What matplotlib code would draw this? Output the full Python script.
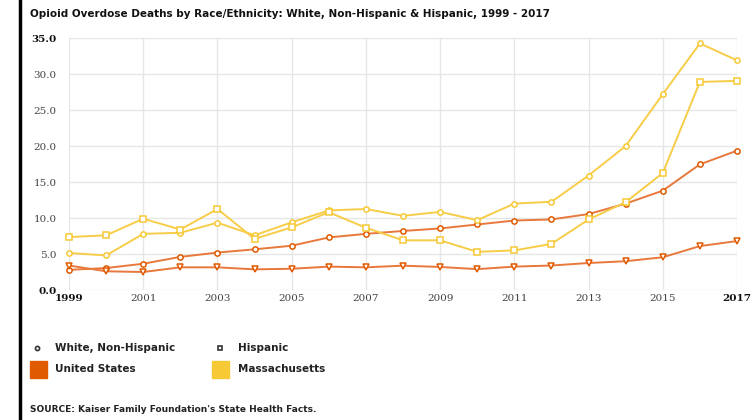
import matplotlib.pyplot as plt
from matplotlib.patches import Rectangle
from matplotlib.lines import Line2D

years = list(range(1999, 2018))

us_white = [2.8, 3.05, 3.65, 4.6, 5.2, 5.65, 6.15, 7.3, 7.8, 8.2, 8.55, 9.1, 9.65, 9.8, 10.55, 12.0, 13.8, 17.45, 19.35]
us_hispanic = [3.4, 2.6, 2.5, 3.15, 3.15, 2.87, 2.95, 3.25, 3.15, 3.38, 3.2, 2.9, 3.25, 3.4, 3.75, 4.0, 4.55, 6.1, 6.8]
ma_white = [5.15, 4.8, 7.8, 7.95, 9.35, 7.6, 9.4, 11.05, 11.25, 10.3, 10.85, 9.7, 12.0, 12.25, 15.9, 20.0, 27.2, 34.25, 31.9]
ma_hispanic = [7.35, 7.6, 9.9, 8.4, 11.25, 7.1, 8.7, 10.8, 8.65, 6.9, 6.9, 5.3, 5.5, 6.4, 9.8, 12.2, 16.25, 28.9, 29.05]

x_ticks = list(range(1999, 2018, 2))
y_ticks = [0, 5, 10, 15, 20, 25, 30, 35]

us_color = '#e05a00'
us_line = '#e8783c'
ma_color = '#f6c935'
ma_line = '#f7cd48'

fig = plt.figure(figsize=(7.53, 4.2), dpi=100)
ax = fig.add_axes([69 / 753, 0.3095, 668 / 753, 0.6])

def draw(vals, marker, lc, mc):
    ax.plot(years, vals, color=lc, lw=1.4, marker=marker, ms=3.8,
            mfc='white', mec=mc, mew=1.1, clip_on=False, zorder=3)

draw(us_white, 'o', us_line, us_color)
draw(us_hispanic, 'v', us_line, us_color)
draw(ma_white, 'o', ma_line, ma_color)
draw(ma_hispanic, 's', ma_line, ma_color)

ax.set_xlim(1999, 2017)
ax.set_ylim(0, 35)
ax.set_xticks(x_ticks)
ax.set_xticklabels([str(t) for t in x_ticks], family='DejaVu Serif', fontsize=7.5, color='#444444')
ax.set_yticks(y_ticks)
ax.set_yticklabels(['%.1f' % t for t in y_ticks], family='DejaVu Serif', fontsize=7.5, color='#444444')
for lbl in [ax.get_xticklabels()[0], ax.get_xticklabels()[-1], ax.get_yticklabels()[0], ax.get_yticklabels()[-1]]:
    lbl.set_fontweight('bold')
    lbl.set_color('#111111')
ax.tick_params(length=0, pad=3)
ax.tick_params(axis='y', pad=9)
for s in ax.spines.values():
    s.set_visible(False)
ax.grid(True, color='#e6e6e6', lw=1)
ax.set_axisbelow(True)

# left border line
fig.add_artist(Line2D([20 / 753, 20 / 753], [0, 1], color='black', lw=2.5))

fig.text(30 / 753, 1 - 14 / 420, 'Opioid Overdose Deaths by Race/Ethnicity: White, Non-Hispanic & Hispanic, 1999 - 2017',
         fontsize=7.5, fontweight='bold', va='center', ha='left', color='#111111')

# legend
fig.add_artist(Line2D([37 / 753], [1 - 348 / 420], marker='o', ms=3, mfc='white', mec='#333333', mew=1.2))
fig.text(55 / 753, 1 - 348 / 420, 'White, Non-Hispanic', fontsize=7.5, fontweight='bold', va='center', color='#222222')
fig.add_artist(Line2D([220 / 753], [1 - 348 / 420], marker='s', ms=3, mfc='white', mec='#333333', mew=1.2))
fig.text(238 / 753, 1 - 348 / 420, 'Hispanic', fontsize=7.5, fontweight='bold', va='center', color='#222222')
fig.add_artist(Rectangle((30 / 753, 1 - 378 / 420), 17 / 753, 17 / 420, color=us_color, transform=fig.transFigure))
fig.text(55 / 753, 1 - 369 / 420, 'United States', fontsize=7.5, fontweight='bold', va='center', color='#222222')
fig.add_artist(Rectangle((212 / 753, 1 - 378 / 420), 17 / 753, 17 / 420, color=ma_color, transform=fig.transFigure))
fig.text(238 / 753, 1 - 369 / 420, 'Massachusetts', fontsize=7.5, fontweight='bold', va='center', color='#222222')

fig.text(30 / 753, 1 - 410 / 420, "SOURCE: Kaiser Family Foundation's State Health Facts.",
         fontsize=6.5, fontweight='bold', va='center', color='#222222')

fig.savefig('out.png', dpi=100)
